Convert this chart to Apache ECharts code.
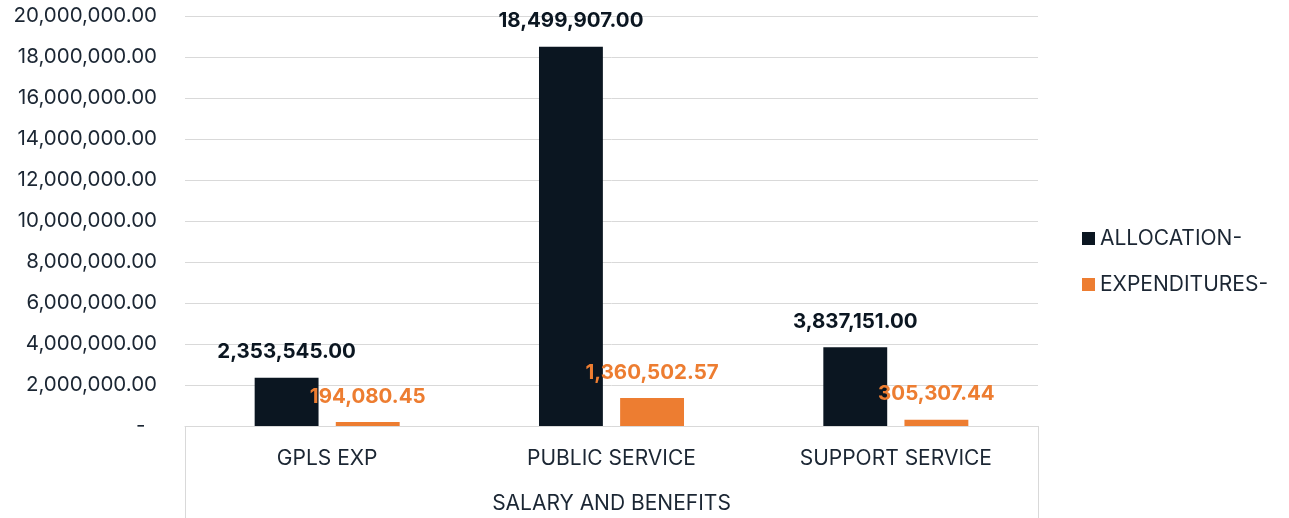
<!DOCTYPE html>
<html>
<head>
<meta charset="utf-8">
<script src="https://cdn.jsdelivr.net/npm/echarts@6/dist/echarts.min.js"></script>
<style>
  html, body { margin: 0; padding: 0; background: #fff; }
  #chart { width: 1289px; height: 518px; }
</style>
</head>
<body>
<div id="chart"></div>
<script>
// data
var categories = ["GPLS EXP", "PUBLIC SERVICE", "SUPPORT SERVICE"];
var groupLabel = ["SALARY AND BENEFITS"];
var allocation = [2353545.0, 18499907.0, 3837151.0];
var expenditures = [194080.45, 1360502.57, 305307.44];
var seriesNames = ["ALLOCATION-", "EXPENDITURES-"];

var DARK = "#0b1621";
var ORANGE = "#ed7d31";
var TEXT = "#1b2633";
var FONT = "Inter, 'Noto Sans', sans-serif";

function money(v) {
  if (v === 0) return "-  ";
  return v.toLocaleString("en-US", { minimumFractionDigits: 2, maximumFractionDigits: 2 });
}

var chart = echarts.init(document.getElementById("chart"));

var option = {
  backgroundColor: "#ffffff",
  animation: false,
  textStyle: { fontFamily: FONT },
  grid: { left: 185, right: 251, top: 16, bottom: 92, containLabel: false },
  legend: {
    orient: "vertical",
    left: 1077,
    top: 223,
    icon: "rect",
    itemWidth: 13,
    itemHeight: 13,
    itemGap: 25,
    data: seriesNames,
    textStyle: { color: TEXT, fontSize: 21, fontFamily: FONT }
  },
  xAxis: [
    {
      type: "category",
      data: categories,
      axisLine: { show: true, lineStyle: { color: "#d9d9d9", width: 1 } },
      axisTick: { show: false },
      axisLabel: { color: TEXT, fontSize: 21, margin: 22, fontFamily: FONT }
    },
    {
      type: "category",
      data: groupLabel,
      position: "bottom",
      axisLine: { show: false },
      axisTick: { show: true, length: 92, interval: 0, lineStyle: { color: "#d9d9d9", width: 1 } },
      axisLabel: { color: TEXT, fontSize: 21, margin: 67, fontFamily: FONT },
      splitLine: { show: false }
    }
  ],
  yAxis: {
    type: "value",
    min: 0,
    max: 20000000,
    interval: 2000000,
    axisLine: { show: false },
    axisTick: { show: false },
    splitLine: { lineStyle: { color: "#d9d9d9", width: 1 } },
    axisLabel: {
      color: TEXT,
      fontSize: 20.5,
      margin: 28,
      fontFamily: FONT,
      formatter: money
    }
  },
  series: [
    {
      name: seriesNames[0],
      type: "bar",
      data: allocation,
      itemStyle: { color: DARK },
      barGap: "27%",
      barCategoryGap: "49%",
      label: {
        show: true,
        position: "top",
        distance: 15,
        color: DARK,
        fontSize: 20.5,
        fontWeight: "bold",
        fontFamily: FONT,
        formatter: function (p) { return money(p.value); }
      }
    },
    {
      name: seriesNames[1],
      type: "bar",
      data: expenditures,
      itemStyle: { color: ORANGE },
      barGap: "27%",
      barCategoryGap: "49%",
      label: {
        show: true,
        position: "top",
        distance: 15,
        color: ORANGE,
        fontSize: 20.5,
        fontWeight: "bold",
        fontFamily: FONT,
        formatter: function (p) { return money(p.value); }
      }
    }
  ]
};

chart.setOption(option);
</script>
</body>
</html>
